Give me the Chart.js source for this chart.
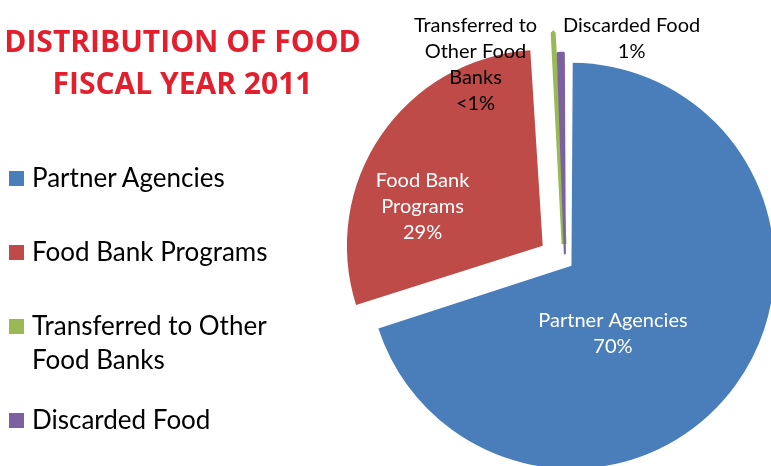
<!DOCTYPE html>
<html>
<head>
<meta charset="utf-8">
<script src="https://cdn.jsdelivr.net/npm/chart.js@4/dist/chart.umd.min.js"></script>
<style>
  html, body { margin:0; padding:0; background:#fff; }
  #wrap { position:relative; width:771px; height:466px; overflow:hidden; background:#fff; }
  #c { position:absolute; left:0; top:0; }
  .title { position:absolute; left:0; width:365px; text-align:center; font-family:"Open Sans", sans-serif; font-weight:700; font-size:30px; line-height:42px; color:#E31E2D; white-space:nowrap; }
  .leg { position:absolute; left:32px; font-family:Lato, sans-serif; font-size:26px; line-height:34px; color:#000; white-space:nowrap; }
  .box { position:absolute; left:9px; width:15px; height:15px; }
</style>
</head>
<body>
<div id="wrap">
  <canvas id="c" width="771" height="466"></canvas>
</div>
<script>
// ---- data ----
const categories = ["Partner Agencies", "Food Bank Programs", "Transferred to Other Food Banks", "Discarded Food"];
const shares = [70.1, 28.9, 0.35, 0.65];
const percentLabels = ["70%", "29%", "<1%", "1%"];
const sliceLabelLines = [["Partner Agencies"], ["Food Bank", "Programs"], ["Transferred to", "Other Food", "Banks"], ["Discarded Food"]];
const legendLines = [["Partner Agencies"], ["Food Bank Programs"], ["Transferred to Other", "Food Banks"], ["Discarded Food"]];
const titleLines = ["DISTRIBUTION OF FOOD", "FISCAL YEAR 2011"];

// ---- styling / layout ----
const colors = ["#4A7EBB", "#BE4B48", "#98B954", "#7D60A0"];
const explode = [32, 108, 68, 27];
const sliceBorder = [0, 0, 5, 2];
const labelColors = ["#ffffff", "#ffffff", "#000000", "#000000"];
// polar placement of each slice label relative to the pie centre: angle clockwise from 12 o'clock, radius fraction
const labelPlacement = [{a:146.1, r:0.441}, {a:291.1, r:0.783}, {a:335.6, r:1.111}, {a:16.6, r:1.196}];
const legendBaselines = [186, 260, 334, 428];
const titleTop = 20;

const wrap = document.getElementById('wrap');
titleLines.forEach((t, i) => {
  const d = document.createElement('div');
  d.className = 'title';
  d.style.top = (titleTop + i * 42) + 'px';
  d.textContent = t;
  wrap.appendChild(d);
});
legendLines.forEach((lines, i) => {
  const b = document.createElement('div');
  b.className = 'box';
  b.style.background = colors[i];
  b.style.top = (legendBaselines[i] - 15) + 'px';
  wrap.appendChild(b);
  const d = document.createElement('div');
  d.className = 'leg';
  d.style.top = (legendBaselines[i] - 26.5) + 'px';
  d.innerHTML = lines.map(s => s.replace(/&/g, '&amp;').replace(/</g, '&lt;')).join('<br>');
  wrap.appendChild(d);
});

const sliceLabels = {
  id: 'sliceLabels',
  afterDatasetsDraw(chart) {
    const ctx = chart.ctx;
    const meta = chart.getDatasetMeta(0);
    const fs = 20, lh = 26, cap = 0.7165 * fs;
    ctx.save();
    ctx.font = fs + 'px Lato, sans-serif';
    ctx.textAlign = 'center';
    ctx.textBaseline = 'alphabetic';
    meta.data.forEach((arc, i) => {
      const p = arc.getProps(['x', 'y', 'outerRadius'], true);
      const pl = labelPlacement[i];
      const ang = (pl.a - 90) * Math.PI / 180;
      const cx = p.x + Math.cos(ang) * pl.r * p.outerRadius;
      const cy = p.y + Math.sin(ang) * pl.r * p.outerRadius;
      const lines = sliceLabelLines[i].concat([percentLabels[i]]);
      ctx.fillStyle = labelColors[i];
      lines.forEach((t, k) => {
        const y = cy + (k - (lines.length - 1) / 2) * lh + cap / 2;
        ctx.fillText(t, cx, y);
      });
    });
    ctx.restore();
  }
};

new Chart(document.getElementById('c'), {
  type: 'pie',
  data: {
    labels: categories,
    datasets: [{
      data: shares,
      backgroundColor: colors,
      borderColor: colors,
      borderWidth: sliceBorder,
      offset: explode,
      clip: false
    }]
  },
  options: {
    responsive: false,
    animation: false,
    events: [],
    radius: 195,
    layout: { padding: { left: 359, right: 0, top: 56, bottom: 0 } },
    plugins: { legend: { display: false }, tooltip: { enabled: false }, title: { display: false } }
  },
  plugins: [sliceLabels]
});
</script>
</body>
</html>
